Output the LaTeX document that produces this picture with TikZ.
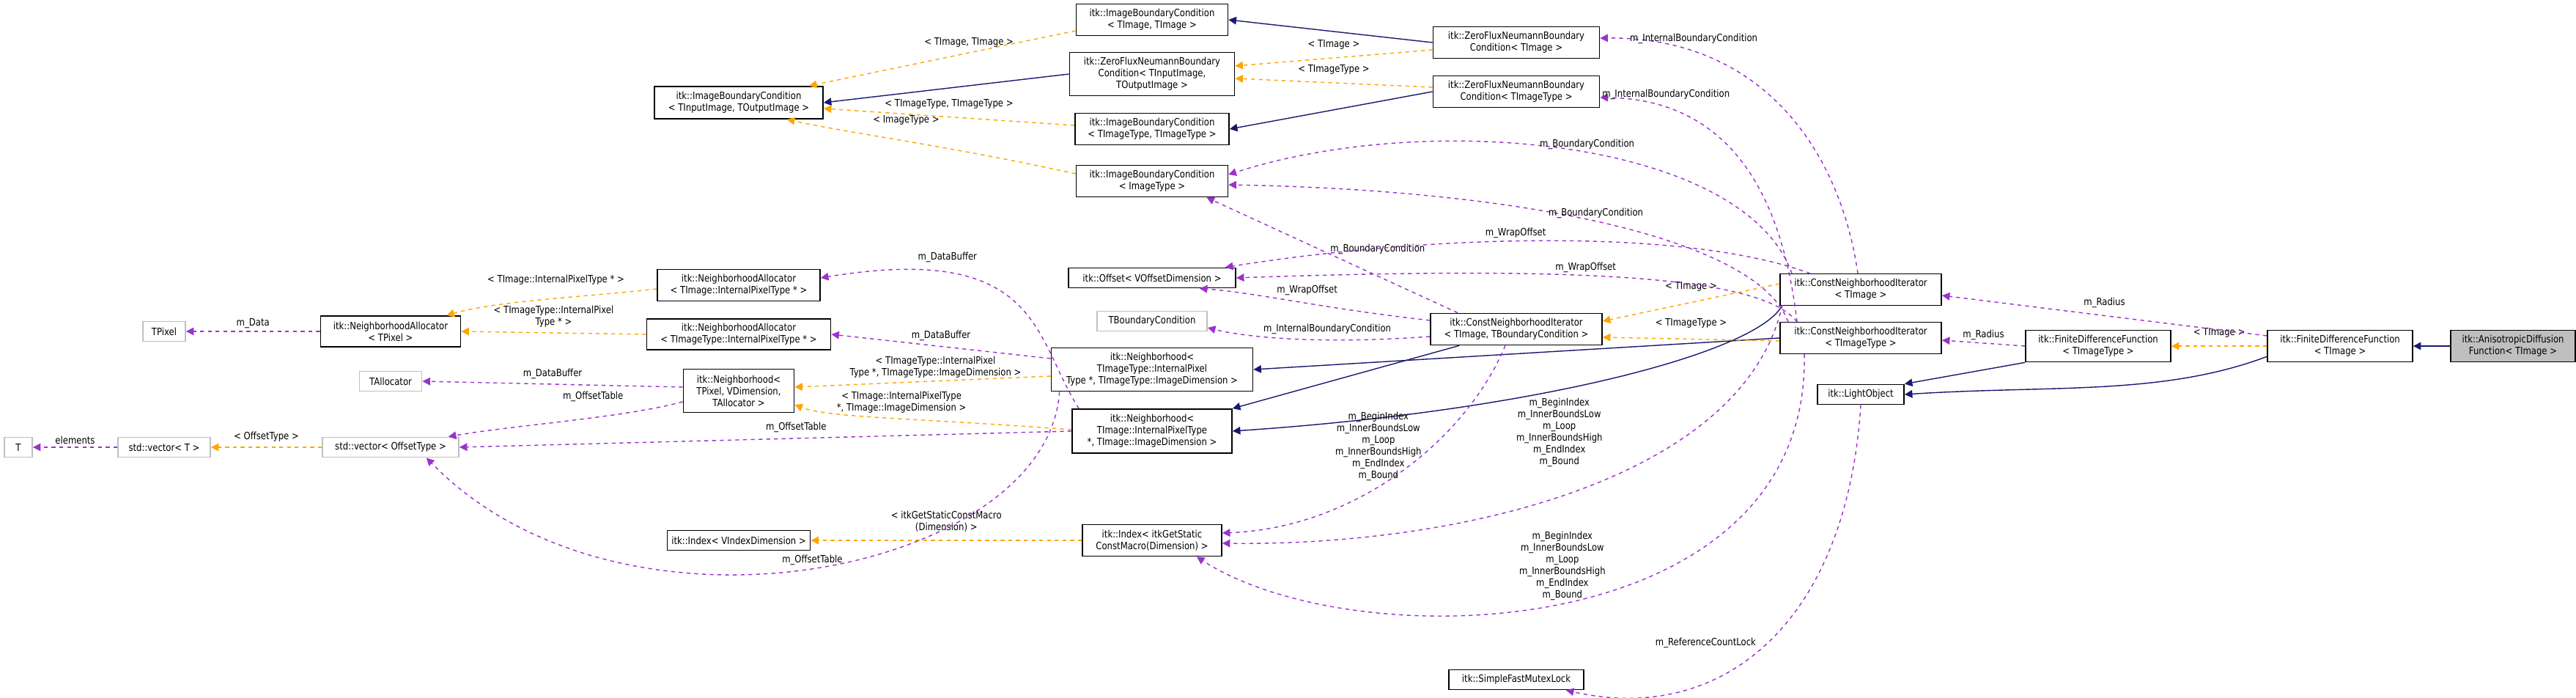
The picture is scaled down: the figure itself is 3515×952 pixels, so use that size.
\documentclass[tikz,border=0pt]{standalone}
\usepackage{fontspec}
\usetikzlibrary{arrows.meta,calc}
\newfontfamily\dfont[FakeStretch=0.85]{DejaVu Sans}
\newcommand\dfnt{\dfont\fontsize{3.9pt}{4.55pt}\selectfont}
\definecolor{inhc}{HTML}{191970}
\definecolor{tmpc}{HTML}{FFA500}
\definecolor{usec}{HTML}{9A32CD}
\definecolor{gbord}{HTML}{BFBFBF}
\tikzset{
  sz/.style 2 args={minimum width=#1*0.01cm, minimum height=#2*0.01cm},
  box/.style={draw=black, line width=0.5pt, fill=white, font=\dfnt, align=center, inner sep=0pt},
  gbox/.style={box, draw=gbord},
  lab/.style={font=\dfnt, align=center, inner sep=0pt, fill=none},
  inh/.style={draw=inhc, line width=0.4pt, -{Triangle[length=3pt,width=3pt]}},
  tmp/.style={draw=tmpc, line width=0.4pt, dash pattern=on 1.5pt off 1.5pt, -{Triangle[length=3pt,width=3pt]}},
  usg/.style={draw=usec, line width=0.4pt, dash pattern=on 1.5pt off 1.5pt, -{Triangle[length=3pt,width=3pt]}},
}
\begin{document}
\begin{tikzpicture}[x=0.01cm,y=-0.01cm]
\useasboundingbox (0,0) rectangle (3515,952);
% nodes
\node[gbox,sz={38}{27}] (T) at (25,610) {T};
\node[gbox,sz={126}{27}] (vecT) at (224,610) {std::vector< T >};
\node[gbox,sz={186}{27}] (vecO) at (533,610) {std::vector< OffsetType >};
\node[gbox,sz={58}{27}] (TPixel) at (224,452) {TPixel};
\node[box,sz={191}{42}] (NAP) at (533,452) {itk::NeighborhoodAllocator\\< TPixel >};
\node[box,sz={222}{43}] (NAI) at (1008,389) {itk::NeighborhoodAllocator\\< TImage::InternalPixelType * >};
\node[box,sz={251}{42}] (NAT) at (1008,456) {itk::NeighborhoodAllocator\\< TImageType::InternalPixelType * >};
\node[gbox,sz={85}{27}] (TAlloc) at (533,520) {TAllocator};
\node[box,sz={151}{59}] (NbP) at (1008,533) {itk::Neighborhood<\\TPixel, VDimension,\\TAllocator >};
\node[box,sz={195}{27}] (IdxV) at (1008,737) {itk::Index< VIndexDimension >};
\node[box,sz={230}{44}] (IBCio) at (1008,140) {itk::ImageBoundaryCondition\\< TInputImage, TOutputImage >};
\node[box,sz={207}{43}] (IBCii) at (1572,27) {itk::ImageBoundaryCondition\\< TImage, TImage >};
\node[box,sz={225}{59}] (ZFio) at (1572,101) {itk::ZeroFluxNeumannBoundary\\Condition< TInputImage,\\TOutputImage >};
\node[box,sz={210}{43}] (IBCtt) at (1572,176) {itk::ImageBoundaryCondition\\< TImageType, TImageType >};
\node[box,sz={207}{43}] (IBCi) at (1572,247) {itk::ImageBoundaryCondition\\< ImageType >};
\node[box,sz={228}{27}] (Off) at (1572,379) {itk::Offset< VOffsetDimension >};
\node[gbox,sz={150}{27}] (TBC) at (1572,438) {TBoundaryCondition};
\node[box,sz={275}{59}] (NbT) at (1572,504) {itk::Neighborhood<\\TImageType::InternalPixel\\Type *, TImageType::ImageDimension >};
\node[box,sz={218}{60}] (NbI) at (1572,588) {itk::Neighborhood<\\TImage::InternalPixelType\\*, TImage::ImageDimension >};
\node[box,sz={190}{43}] (Idx) at (1572,737) {itk::Index< itkGetStatic\\ConstMacro(Dimension) >};
\node[box,sz={227}{43}] (ZFi) at (2069,58) {itk::ZeroFluxNeumannBoundary\\Condition< TImage >};
\node[box,sz={227}{43}] (ZFt) at (2069,125) {itk::ZeroFluxNeumannBoundary\\Condition< TImageType >};
\node[box,sz={234}{43}] (CNIb) at (2069,449) {itk::ConstNeighborhoodIterator\\< TImage, TBoundaryCondition >};
\node[box,sz={184}{27}] (Mutex) at (2069,927) {itk::SimpleFastMutexLock};
\node[box,sz={220}{43}] (CNIi) at (2539,395) {itk::ConstNeighborhoodIterator\\< TImage >};
\node[box,sz={220}{43}] (CNIt) at (2539,461) {itk::ConstNeighborhoodIterator\\< TImageType >};
\node[box,sz={118}{27}] (LO) at (2539,538) {itk::LightObject};
\node[box,sz={198}{43}] (FDFt) at (2863,472) {itk::FiniteDifferenceFunction\\< TImageType >};
\node[box,sz={198}{43}] (FDFi) at (3193,472) {itk::FiniteDifferenceFunction\\< TImage >};
\node[box,sz={170}{43},fill=gbord] (Aniso) at (3429,472) {itk::AnisotropicDiffusion\\Function< TImage >};
% coordinates
\coordinate (cnii1) at (2445,373);
\coordinate (cnii2) at (2470,373);
\coordinate (cnii3) at (2535,373);
\coordinate (cnii4) at (2432,416);
\coordinate (cnit1) at (2440,439);
\coordinate (cnit2) at (2452,439);
\coordinate (cnit3) at (2462,483);
% inheritance
\draw[inh] (ZFi.west) -- (IBCii.east);
\draw[inh] (ZFio.west) -- (IBCio.east);
\draw[inh] (ZFt.west) -- (IBCtt.east);
\draw[inh] (CNIt.west) -- (NbT.east);
\draw[inh] ($(CNIb.south west)+(40,0)$) -- (NbI.north east);
\draw[inh] (cnii4) .. controls (2400,480) and (2100,560) .. (NbI.east);
\draw[inh] (FDFt.south west) -- (LO.north east);
\draw[inh] ($(FDFi.south west)+(0,-8)$) .. controls (2950,540) and (2800,525) .. (LO.east);
\draw[inh] (Aniso.west) -- (FDFi.east);
% template
\draw[tmp] ($(IBCii.west)+(0,15)$) -- node[lab,above=2pt,pos=0.4]{< TImage, TImage >} ($(IBCio.north east)+(-20,0)$);
\draw[tmp] ($(IBCtt.west)+(0,-5)$) -- node[lab,above=3pt,pos=0.5]{< TImageType, TImageType >} ($(IBCio.east)+(0,8)$);
\draw[tmp] ($(IBCi.west)+(0,-10)$) .. controls (1300,200) and (1150,180) .. node[lab,pos=0.5,above=6pt]{< ImageType >} ($(IBCio.south east)+(-50,0)$);
\draw[tmp] ($(ZFi.west)+(0,10)$) -- node[lab,above=3pt]{< TImage >} ($(ZFio.east)+(0,-11)$);
\draw[tmp] ($(ZFt.west)+(0,-6)$) -- node[lab,above=3pt]{< TImageType >} ($(ZFio.east)+(0,6)$);
\draw[tmp] ($(CNIi.west)+(0,-8)$) -- node[lab,above=4pt]{< TImage >} ($(CNIb.east)+(0,-11)$);
\draw[tmp] ($(CNIt.west)+(0,4)$) -- node[lab,above=4pt]{< TImageType >} ($(CNIb.east)+(0,11)$);
\draw[tmp] (FDFi.west) -- node[lab,above=3pt]{< TImage >} (FDFt.east);
\draw[tmp] ($(NAI.west)+(0,5)$) .. controls (800,405) and (680,410) .. node[lab,pos=0.45,above=5pt]{< TImage::InternalPixelType * >} ($(NAP.north east)+(-20,0)$);
\draw[tmp] (NAT.west) -- node[lab,above=2pt]{< TImageType::InternalPixel\\Type * >} (NAP.east);
\draw[tmp] ($(NbT.west)+(0,9)$) -- node[lab,above=1pt,pos=0.45]{< TImageType::InternalPixel\\Type *, TImageType::ImageDimension >} ($(NbP.east)+(0,-5)$);
\draw[tmp] ($(NbI.west)+(0,-2)$) .. controls (1250,570) and (1130,570) .. node[lab,pos=0.45,above=2pt]{< TImage::InternalPixelType\\*, TImage::ImageDimension >} ($(NbP.east)+(0,19)$);
\draw[tmp] (vecO.west) -- node[lab,above=2pt]{< OffsetType >} (vecT.east);
\draw[tmp] (Idx.west) -- node[lab,above=3pt]{< itkGetStaticConstMacro\\(Dimension) >} (IdxV.east);
% usage
\draw[usg] (NAP.west) -- node[lab,above=1pt]{m\_Data} (TPixel.east);
\draw[usg] (vecT.west) -- node[lab,above=1pt]{elements} (T.east);
\draw[usg] ($(NbP.west)+(0,-5)$) -- node[lab,above=2pt]{m\_DataBuffer} (TAlloc.east);
\draw[usg] ($(NbP.west)+(0,15)$) .. controls (850,570) and (700,580) .. node[lab,pos=0.4,above=6pt]{m\_OffsetTable} ($(vecO.north east)+(-15,0)$);
\draw[usg] (NbI.west) -- node[lab,above=2pt,pos=0.45]{m\_OffsetTable} (vecO.east);
\draw[usg] ($(NbT.south west)+(12,0)$) .. controls (1430,780) and (850,900) .. node[lab,pos=0.5,above=1pt]{m\_OffsetTable} ($(vecO.south east)+(-45,0)$);
\draw[usg] ($(NbI.north west)+(10,0)$) .. controls (1410,460) and (1420,330) .. node[lab,pos=0.75,above=4pt]{m\_DataBuffer} ($(NAI.east)+(0,-10)$);
\draw[usg] ($(NbT.west)+(0,-15)$) -- node[lab,above=2pt]{m\_DataBuffer} (NAT.east);
\draw[usg] (cnii1) .. controls (2380,190) and (1950,150) .. node[lab,pos=0.47,above=1pt]{m\_BoundaryCondition} ($(IBCi.east)+(0,-9)$);
\draw[usg] (cnit1) .. controls (2400,330) and (2100,260) .. node[lab,pos=0.53,above=1pt]{m\_BoundaryCondition} ($(IBCi.east)+(0,5)$);
\draw[usg] ($(CNIb.north)+(-80,0)$) -- node[lab,right=4pt,pos=0.55]{m\_BoundaryCondition} ($(IBCi.south east)+(-30,0)$);
\draw[usg] (cnii2) .. controls (2300,310) and (1950,320) .. node[lab,pos=0.55,above=1pt]{m\_WrapOffset} ($(Off.north east)+(-15,0)$);
\draw[usg] (cnit2) .. controls (2400,370) and (2100,365) .. node[lab,pos=0.55,above=1pt]{m\_WrapOffset} (Off.east);
\draw[usg] ($(CNIb.west)+(0,-12)$) .. controls (1800,420) and (1720,400) .. node[lab,pos=0.45,above=3pt]{m\_WrapOffset} ($(Off.south east)+(-50,0)$);
\draw[usg] ($(CNIb.west)+(0,10)$) .. controls (1800,470) and (1700,460) .. node[lab,pos=0.35,above=2pt]{m\_InternalBoundaryCondition} ($(TBC.east)+(0,9)$);
\draw[usg] (cnii3) .. controls (2510,200) and (2400,50) .. node[lab,pos=0.78,above=3pt]{m\_InternalBoundaryCondition} ($(ZFi.east)+(0,-6)$);
\draw[usg] (cnit2) .. controls (2430,250) and (2350,135) .. node[lab,pos=0.8,above=3pt]{m\_InternalBoundaryCondition} ($(ZFt.east)+(0,8)$);
\draw[usg] ($(CNIb.south)+(-15,0)$) .. controls (2000,600) and (1850,720) .. node[lab,pos=0.38,left=4pt]{m\_BeginIndex\\m\_InnerBoundsLow\\m\_Loop\\m\_InnerBoundsHigh\\m\_EndIndex\\m\_Bound} ($(Idx.east)+(0,-10)$);
\draw[usg] (cnii4) .. controls (2380,650) and (2000,745) .. node[lab,pos=0.3,left=34pt]{m\_BeginIndex\\m\_InnerBoundsLow\\m\_Loop\\m\_InnerBoundsHigh\\m\_EndIndex\\m\_Bound} ($(Idx.east)+(0,4)$);
\draw[usg] (cnit3) .. controls (2470,880) and (1850,900) .. node[lab,pos=0.5,above=1pt]{m\_BeginIndex\\m\_InnerBoundsLow\\m\_Loop\\m\_InnerBoundsHigh\\m\_EndIndex\\m\_Bound} ($(Idx.south east)+(-35,0)$);
\draw[usg] (LO.south) .. controls (2520,850) and (2350,990) .. node[lab,pos=0.5,left=4pt]{m\_ReferenceCountLock} ($(Mutex.south east)+(-25,0)$);
\draw[usg] ($(FDFi.west)+(0,-14)$) -- node[lab,above=3pt]{m\_Radius} ($(CNIi.east)+(0,8)$);
\draw[usg] (FDFt.west) -- node[lab,above=1pt]{m\_Radius} ($(CNIt.east)+(0,3)$);
\end{tikzpicture}
\end{document}
